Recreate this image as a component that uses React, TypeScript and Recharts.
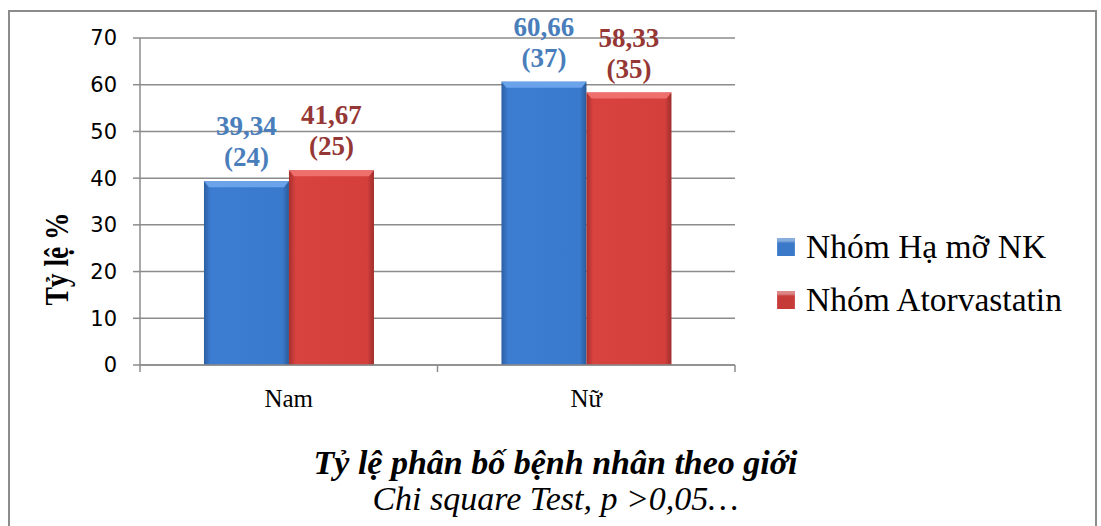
import { BarChart, Bar, XAxis, YAxis, CartesianGrid, LabelList } from 'recharts';

// Categories and series values
const categories = ['Nam', 'Nữ'];
const haMoValues = [39.34, 60.66];
const atorValues = [41.67, 58.33];
const haMoCounts = [24, 37];
const atorCounts = [25, 35];
const yTicks = [0, 10, 20, 30, 40, 50, 60, 70];

const data = categories.map((name, i) => ({
    name,
    haMo: haMoValues[i],
    ator: atorValues[i],
}));

const fmt = (v: number) => v.toFixed(2).replace('.', ',');
const serif = "'Liberation Serif', 'Times New Roman', serif";

const makeLabel = (color: string, counts: number[]) => (props: any) => {
    const { x, y, width, value, index } = props;
    const cx = x + width / 2;
    return (
        <g>
            <text x={cx} y={y - 46} textAnchor="middle" fill={color} fontFamily={serif} fontWeight="bold" fontSize={27}>
                {fmt(value)}
            </text>
            <text x={cx} y={y - 15} textAnchor="middle" fill={color} fontFamily={serif} fontWeight="bold" fontSize={27}>
                ({counts[index]})
            </text>
        </g>
    );
};

// bar with a bit of the 3D bevel look
const makeShape = (grad: string, top: string) => (props: any) => {
    const { x, y, width, height } = props;
    return (
        <g>
            <rect x={x} y={y} width={width} height={height} fill={`url(#${grad})`} />
            <path d={`M${x},${y} L${x + width},${y} L${x + width - 5},${y + 6} L${x + 5},${y + 6} Z`} fill={top} />
        </g>
    );
};

const XTick = (props: any) => {
    const { x, y, payload, index } = props;
    const half = 595 / categories.length / 2;
    return (
        <g>
            {index === 0 && <line x1={x - half} x2={x - half} y1={y - 8} y2={y - 1} stroke="#8c8c8c" strokeWidth={1.5} />}
            <line x1={x + half} x2={x + half} y1={y - 8} y2={y - 1} stroke="#8c8c8c" strokeWidth={1.5} />
            <text x={x} y={y + 34} textAnchor="middle" fill="#000" fontFamily={serif} fontSize={25}>
                {payload.value}
            </text>
        </g>
    );
};

const legendItems = [
    { value: 'Nhóm Hạ mỡ NK', color: '#3a78c9' },
    { value: 'Nhóm Atorvastatin', color: '#c63a38' },
];

const App = () => {
    return (
        <div style={{ position: 'absolute', left: 0, top: 0, width: 1101, height: 526, background: '#fff', overflow: 'hidden' }}>
            <div style={{ position: 'absolute', left: 8, top: 10, width: 1085, height: 530, border: '2px solid #8c8c8c' }} />
            <div style={{ position: 'absolute', left: 0, top: 0 }}>
                <BarChart width={1101} height={526} data={data} margin={{ top: 38, right: 366, bottom: 131, left: 80 }} barCategoryGap="21.5%" barGap={0}>
                    <defs>
                        <linearGradient id="gBlue" x1="0" y1="0" x2="1" y2="0">
                            <stop offset="0%" stopColor="#2d5fa2" />
                            <stop offset="8%" stopColor="#3c7dd2" />
                            <stop offset="92%" stopColor="#3a7acd" />
                            <stop offset="100%" stopColor="#2b5a98" />
                        </linearGradient>
                        <linearGradient id="gRed" x1="0" y1="0" x2="1" y2="0">
                            <stop offset="0%" stopColor="#a8302e" />
                            <stop offset="8%" stopColor="#d8423f" />
                            <stop offset="92%" stopColor="#d43f3c" />
                            <stop offset="100%" stopColor="#9e2e2c" />
                        </linearGradient>
                    </defs>
                    <CartesianGrid vertical={false} stroke="#8c8c8c" strokeWidth={1.5} />
                    <XAxis dataKey="name" axisLine={{ stroke: '#8c8c8c', strokeWidth: 1.5 }} tickLine={false} tick={<XTick />} interval={0} />
                    <YAxis
                        width={60}
                        domain={[0, 70]}
                        ticks={yTicks}
                        axisLine={{ stroke: '#8c8c8c', strokeWidth: 1.5 }}
                        tickLine={{ stroke: '#8c8c8c', strokeWidth: 1.5 }}
                        tickSize={7}
                        tickMargin={16}
                        tick={{ fill: '#000', fontFamily: "'DejaVu Sans', sans-serif", fontSize: 21 }}
                        label={{
                            content: () => (
                                <text transform="translate(68,259) rotate(-90)" textAnchor="middle" fontFamily={serif} fontWeight="bold" fontSize={33} textLength={93} lengthAdjust="spacingAndGlyphs" fill="#000">
                                    Tỷ lệ %
                                </text>
                            ),
                        }}
                    />
                    <Bar dataKey="haMo" name="Nhóm Hạ mỡ NK" fill="#3a78c9" shape={makeShape('gBlue', '#6aa3ea')} isAnimationActive={false}>
                        <LabelList dataKey="haMo" content={makeLabel('#4a7ebb', haMoCounts)} />
                    </Bar>
                    <Bar dataKey="ator" name="Nhóm Atorvastatin" fill="#c63a38" shape={makeShape('gRed', '#ee6f6c')} isAnimationActive={false}>
                        <LabelList dataKey="ator" content={makeLabel('#953735', atorCounts)} />
                    </Bar>
                </BarChart>
            </div>
            <div style={{ position: 'absolute', left: 777, top: 220, fontFamily: serif, fontSize: 33.5, color: '#000' }}>
                {legendItems.map((p) => (
                    <div key={p.value} style={{ display: 'flex', alignItems: 'center', height: 53 }}>
                        <span style={{ display: 'inline-block', width: 18, height: 18, background: p.color, marginRight: 11, boxShadow: 'inset 0 4px 2px rgba(255,255,255,0.4)' }} />
                        {p.value}
                    </div>
                ))}
            </div>
            <div style={{ position: 'absolute', left: 0, width: 1101, top: 445, textAlign: 'center', fontFamily: serif, color: '#000' }}>
                <div style={{ fontSize: 34, fontWeight: 'bold', fontStyle: 'italic', lineHeight: '36px', paddingLeft: 10 }}>Tỷ lệ phân bố bệnh nhân theo giới</div>
                <div style={{ fontSize: 34, fontStyle: 'italic', lineHeight: '36px', paddingLeft: 10 }}>Chi square Test, p &gt;0,05…</div>
            </div>
        </div>
    );
};

export default App;
